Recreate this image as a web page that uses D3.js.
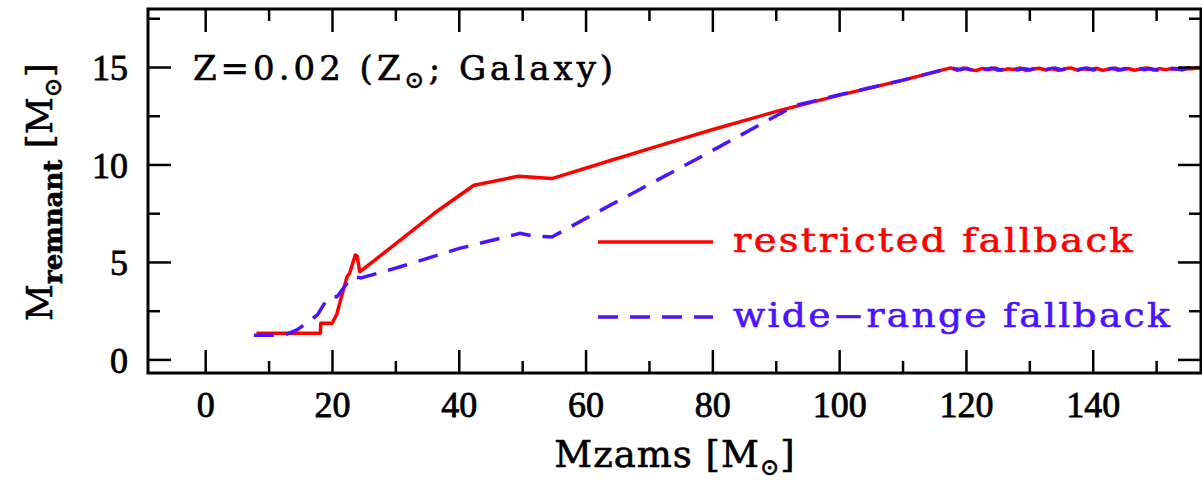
<!DOCTYPE html>
<html>
<head>
<meta charset="utf-8">
<script src="https://cdn.jsdelivr.net/npm/d3@7"></script>
<style>
  body { margin: 0; background: #fff; }
  svg { display: block; }
</style>
</head>
<body>
<div id="chart"></div>
<script>
// curve "restricted fallback" (rossa, continua)
var redMass = [8, 18.1, 18.15, 19.95, 20.7, 21.2, 22.3, 22.7, 23.6, 23.9, 24.3, 30.7, 36.0, 42.3, 49.3, 54.6, 64.0, 70, 80, 90.6, 100, 110, 117.5,
               118.5, 119.5, 120.5, 121.5, 122.5, 123.5, 124.5, 125.5, 126.5, 127.5, 128.5, 129.5, 130.5, 131.5, 132.5, 133.5, 134.5, 135.5, 136.5, 137.5,
               138.5, 139.5, 140.5, 141.5, 142.5, 143.5, 144.5, 145.5, 146.5, 147.5, 148.5, 149.5, 150.5, 151.5, 152.5, 153.5, 154.5, 155.5, 156.5, 157];
var redRemnant = [1.37, 1.37, 1.88, 1.88, 2.36, 2.99, 4.27, 4.44, 5.38, 5.32, 4.52, 6.14, 7.51, 8.96, 9.42, 9.30, 10.24, 10.84, 11.82, 12.8, 13.58, 14.35, 14.98,
                  14.86, 14.97, 14.9, 14.84, 14.95, 14.88, 14.98, 14.85, 14.93, 14.9, 14.97, 14.84, 14.92, 14.96, 14.87, 14.95, 14.85, 14.93, 14.98, 14.86,
                  14.94, 14.9, 14.96, 14.85, 14.92, 14.97, 14.88, 14.95, 14.86, 14.93, 14.98, 14.87, 14.94, 14.89, 14.96, 14.9, 14.95, 14.93, 14.97, 14.95];

// curve "wide-range fallback" (blu, tratteggiata)
var blueMass = [7.6, 12.3, 14.4, 17.6, 18.9, 19.7, 20.7, 22.3, 23.4, 24.5, 30.7, 40, 49.6, 51.7, 54.6, 64.3, 78, 93, 100, 110, 117.5,
                119, 120, 121, 122, 123, 124, 125, 126, 127, 128, 129, 130, 131, 132, 133, 134, 135, 136, 137, 138,
                139, 140, 141, 142, 143, 144, 145, 146, 147, 148, 149, 150, 151, 152, 153, 154, 155, 156, 157];
var blueRemnant = [1.26, 1.26, 1.54, 2.3, 2.99, 3.24, 3.24, 3.93, 4.27, 4.2, 4.78, 5.72, 6.49, 6.35, 6.31, 8.02, 10.4, 13.05, 13.6, 14.35, 14.98,
                   14.88, 14.96, 14.85, 14.94, 14.9, 14.97, 14.86, 14.93, 14.98, 14.87, 14.95, 14.89, 14.96, 14.85, 14.93, 14.97, 14.88, 14.95, 14.84, 14.92,
                   14.97, 14.87, 14.94, 14.9, 14.96, 14.86, 14.95, 14.91, 14.97, 14.88, 14.94, 14.86, 14.96, 14.9, 14.95, 14.88, 14.97, 14.93, 14.96];

var xTicksMajor = [0, 20, 40, 60, 80, 100, 120, 140];
var xTicksMinor = [10, 30, 50, 70, 90, 110, 130, 150];
var yTicksMajor = [0, 5, 10, 15];
var yTicksMinor = [2.5, 7.5, 12.5, 17.5];

var legendLabels = ["restricted fallback", "wide\u2212range fallback"];
var colors = ["#ff0000", "#4a14ff"];

var width = 1202;
var height = 485;
// attenzione: "top" e' riservato da window, quindi uso nomi con prefisso
var pLeft = 148, pRight = 1201, pTop = 9, pBottom = 373;

var svg = d3.select("#chart")
            .append("svg")
            .attr("width", width)
            .attr("height", height);

var x = d3.scaleLinear().domain([-9.1, 157]).range([pLeft, pRight]);
var y = d3.scaleLinear().domain([-0.67, 18]).range([pBottom, pTop]);

var serif = "'DejaVu Serif', serif";
var tickFont = "'Liberation Serif', serif";

// curve (clip sul riquadro)
svg.append("clipPath").attr("id", "clip")
   .append("rect")
   .attr("x", pLeft).attr("y", pTop)
   .attr("width", pRight - pLeft).attr("height", pBottom - pTop);

var line = d3.line().x(d => x(d[0])).y(d => y(d[1]));

var redData = redMass.map((m, i) => [m, redRemnant[i]]);
var blueData = blueMass.map((m, i) => [m, blueRemnant[i]]);

svg.append("path")
   .datum(redData)
   .attr("clip-path", "url(#clip)")
   .attr("fill", "none")
   .attr("stroke", colors[0])
   .attr("stroke-width", 3.5)
   .attr("stroke-linejoin", "round")
   .attr("d", line);

svg.append("path")
   .datum(blueData)
   .attr("clip-path", "url(#clip)")
   .attr("fill", "none")
   .attr("stroke", colors[1])
   .attr("stroke-width", 3.5)
   .attr("stroke-dasharray", "20,12")
   .attr("d", line);

// riquadro e tacche su tutti e quattro i lati
var axes = svg.append("g")
              .attr("stroke", "#000")
              .attr("stroke-width", 2.5)
              .attr("fill", "none");

axes.append("rect")
    .attr("x", pLeft).attr("y", pTop)
    .attr("width", pRight - pLeft).attr("height", pBottom - pTop)
    .attr("stroke-width", 3);

var major = 23, minor = 12;

function xTick(list, len) {
    list.forEach(v => {
        axes.append("line").attr("x1", x(v)).attr("x2", x(v)).attr("y1", pBottom).attr("y2", pBottom - len);
        axes.append("line").attr("x1", x(v)).attr("x2", x(v)).attr("y1", pTop).attr("y2", pTop + len);
    });
}
function yTick(list, len) {
    list.forEach(v => {
        axes.append("line").attr("y1", y(v)).attr("y2", y(v)).attr("x1", pLeft).attr("x2", pLeft + len);
        axes.append("line").attr("y1", y(v)).attr("y2", y(v)).attr("x1", pRight).attr("x2", pRight - len);
    });
}
xTick(xTicksMajor, major);
xTick(xTicksMinor, minor);
yTick(yTicksMajor, major);
yTick(yTicksMinor, minor);

// etichette delle tacche (un filo di contorno per renderle piu' spesse come nell'originale)
svg.append("g")
   .selectAll("text")
   .data(xTicksMajor)
   .enter()
   .append("text")
   .attr("x", d => x(d))
   .attr("y", 417)
   .attr("text-anchor", "middle")
   .attr("stroke", "#000")
   .attr("stroke-width", 0.8)
   .style("font-family", tickFont)
   .style("font-size", "36px")
   .text(d => d);

svg.append("g")
   .selectAll("text")
   .data(yTicksMajor)
   .enter()
   .append("text")
   .attr("x", 128)
   .attr("y", d => y(d) + 13)
   .attr("text-anchor", "end")
   .attr("stroke", "#000")
   .attr("stroke-width", 0.8)
   .style("font-family", tickFont)
   .style("font-size", "36px")
   .text(d => d);

// titoli degli assi
var xl = svg.append("text")
            .attr("x", 675)
            .attr("y", 467)
            .attr("text-anchor", "middle")
            .attr("stroke", "#000")
            .attr("stroke-width", 0.6)
            .style("font-family", serif)
            .style("font-size", "37px")
            .style("letter-spacing", "1px");
xl.append("tspan").text("Mzams [M");
xl.append("tspan").attr("dy", 8).style("font-size", "23px").text("\u2299");
xl.append("tspan").attr("dy", -8).text("]");

var yl = svg.append("text")
            .attr("transform", "translate(52,192) rotate(-90)")
            .attr("text-anchor", "middle")
            .attr("stroke", "#000")
            .attr("stroke-width", 0.6)
            .style("font-family", serif)
            .style("font-size", "36px");
yl.append("tspan").text("M");
yl.append("tspan").attr("dy", 10).style("font-size", "26px").style("font-weight", "bold").text("remnant");
yl.append("tspan").attr("dy", -10).text(" [M");
yl.append("tspan").attr("dy", 9).style("font-size", "24px").text("\u2299");
yl.append("tspan").attr("dy", -9).text("]");

// titolo nel grafico
var title = svg.append("text")
               .attr("x", 193)
               .attr("y", 80)
               .attr("stroke", "#000")
               .attr("stroke-width", 0.6)
               .style("font-family", serif)
               .style("font-size", "34px")
               .style("letter-spacing", "4px");
title.append("tspan").text("Z=0.02 (Z");
title.append("tspan").attr("dy", 8).style("font-size", "24px").text("\u2299");
title.append("tspan").attr("dy", -8).text("; Galaxy)");

// legenda
var legY = [242, 317];
var legTextLen = [402, 439];
legendLabels.forEach((lab, i) => {
    svg.append("line")
       .attr("x1", 598).attr("x2", 713)
       .attr("y1", legY[i]).attr("y2", legY[i])
       .attr("stroke", colors[i])
       .attr("stroke-width", 3.5)
       .attr("stroke-dasharray", i == 1 ? "20,12" : null);
    svg.append("text")
       .attr("x", 733)
       .attr("y", legY[i] + 10)
       .attr("fill", colors[i])
       .attr("stroke", colors[i])
       .attr("stroke-width", 0.6)
       .attr("textLength", legTextLen[i])
       .attr("lengthAdjust", "spacingAndGlyphs")
       .style("font-family", serif)
       .style("font-size", "33px")
       .style("letter-spacing", "2px")
       .text(lab);
});
</script>
</body>
</html>
